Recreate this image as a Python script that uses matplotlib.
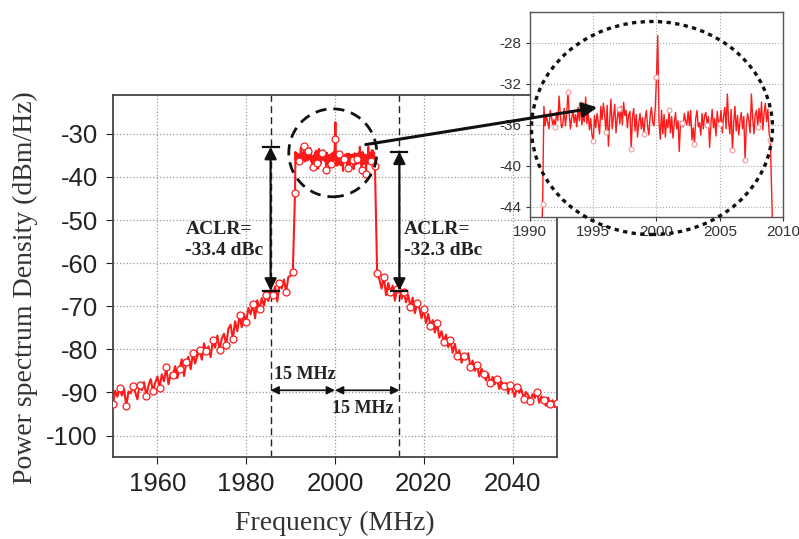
import numpy as np
import matplotlib.pyplot as plt
from matplotlib.patches import Ellipse, FancyArrowPatch

plt.rcParams['axes.unicode_minus'] = False
plt.rcParams['font.family'] = ['Liberation Sans', 'DejaVu Sans']

# measured PSD: skirts every 0.5 MHz, channel every 0.1 MHz
left_freq = np.linspace(1950.0, 1990.5, 82)
left_psd = [
    -92.8, -89.6, -91.0, -88.9, -90.7, -89.2, -93.1, -89.8, -90.2, -88.5,
    -89.9, -91.6, -88.2, -89.5, -87.6, -90.8, -88.4, -86.9, -89.7, -87.8,
    -86.3, -88.9, -85.8, -87.4, -84.2, -88.1, -85.6, -86.0, -83.9, -86.7,
    -84.5, -82.3, -86.2, -83.0, -81.7, -84.6, -80.9, -83.3, -81.5, -80.2,
    -82.4, -78.6, -80.5, -79.3, -81.8, -77.9, -79.6, -76.8, -80.1, -77.5,
    -76.4, -78.9, -75.2, -74.3, -77.6, -73.5, -75.8, -72.1, -74.9, -71.8,
    -73.6, -70.4, -71.9, -69.5, -72.8, -68.6, -70.7, -68.1, -69.9, -67.3,
    -68.8, -66.2, -67.5, -65.4, -68.9, -64.7, -65.9, -63.8, -66.6, -63.2,
    -62.9, -62.0,
]

band_freq = np.linspace(1991.0, 2009.0, 181)
band_psd = [
    -43.7, -34.2, -36.1, -35.0, -35.8, -36.4, -34.6, -35.2, -36.0, -35.5,
    -36.2, -34.8, -35.6, -33.2, -35.1, -36.3, -35.9, -34.4, -36.1, -35.0,
    -32.8, -34.9, -36.4, -35.3, -34.7, -35.8, -35.0, -36.2, -34.3, -35.6,
    -34.0, -36.0, -35.2, -35.7, -33.3, -35.9, -34.8, -36.5, -35.4, -37.0,
    -37.6, -35.1, -36.3, -34.9, -35.8, -36.9, -34.2, -35.5, -33.9, -35.0,
    -36.7, -34.1, -38.1, -35.6, -33.5, -36.4, -35.2, -34.0, -36.8, -35.3,
    -34.5, -35.9, -34.2, -36.0, -33.8, -35.1, -34.6, -36.3, -35.0, -34.7,
    -38.4, -35.2, -34.4, -36.6, -35.0, -37.2, -35.8, -34.9, -36.4, -35.3,
    -36.9, -35.4, -34.6, -36.2, -37.0, -35.1, -34.3, -35.8, -36.1, -34.4,
    -31.3, -27.3, -35.8, -37.4, -34.6, -36.9, -35.0, -37.2, -35.5, -36.3,
    -34.6, -36.8, -35.2, -37.3, -35.9, -34.8, -36.4, -35.6, -38.6, -35.7,
    -35.8, -36.2, -34.9, -35.6, -36.0, -34.7, -36.1, -34.6, -37.5, -36.3,
    -37.9, -35.4, -34.6, -36.2, -35.8, -37.0, -34.9, -36.4, -35.1, -34.8,
    -36.0, -35.2, -38.2, -35.9, -34.5, -36.3, -35.4, -37.1, -34.7, -35.8,
    -35.9, -34.6, -36.8, -35.2, -34.3, -36.4, -33.0, -35.7, -36.9, -34.5,
    -38.5, -35.8, -34.2, -36.6, -35.1, -37.0, -35.6, -34.8, -36.4, -35.2,
    -39.4, -36.1, -34.9, -35.6, -36.8, -33.0, -35.3, -36.9, -35.0, -34.6,
    -36.2, -34.4, -35.8, -33.8, -36.5, -34.9, -33.9, -35.7, -34.5, -36.8,
    -37.5,
]

right_freq = np.linspace(2009.5, 2050.0, 82)
right_psd = [
    -62.3, -63.8, -65.9, -63.1, -67.4, -64.6, -66.8, -65.2, -68.7, -66.0,
    -65.9, -68.3, -66.7, -69.1, -67.4, -70.2, -68.0, -71.6, -69.3, -70.5,
    -72.8, -70.6, -73.9, -71.8, -74.5, -73.2, -76.1, -74.0, -77.3, -75.8,
    -78.4, -76.6, -79.5, -77.9, -80.8, -78.7, -81.6, -80.2, -83.1, -81.5,
    -82.4, -80.9, -84.2, -82.6, -85.0, -83.7, -86.3, -84.5, -85.8, -87.2,
    -85.6, -87.9, -86.4, -88.1, -86.9, -89.2, -87.5, -88.6, -87.8, -90.3,
    -88.2, -89.6, -91.0, -88.7, -90.1, -89.3, -91.5, -89.9, -90.6, -92.0,
    -90.4, -91.3, -89.8, -92.4, -90.9, -91.7, -93.1, -91.2, -92.6, -91.8,
    -93.4, -92.5,
]

# ACLR markers (adjacent channel edges) and their levels
aclr_freq = [1985.5, 2014.5]
aclr_bottom = [-66.4, -66.4]
aclr_value = [-33.4, -32.3]
spacing_mhz = 15

freq = np.concatenate([left_freq, band_freq, right_freq])
psd = np.concatenate([left_psd, band_psd, right_psd])

red = '#ff1a1a'
fig = plt.figure(figsize=(7.99, 5.39), dpi=100)
ax = fig.add_axes([0.1414, 0.152, 0.5557, 0.6716])

ax.plot(freq, psd, color=red, lw=1.5, zorder=3)
mk_f = np.concatenate([left_freq[::3], band_freq[::10], right_freq[::3]])
mk_p = np.concatenate([np.array(left_psd)[::3], np.array(band_psd)[::10],
                       np.array(right_psd)[::3]])
ax.plot(mk_f, mk_p, 'o', ms=5, mfc='white', mec=red, mew=0.9, zorder=4)

ax.set_xlim(1950, 2050)
ax.set_ylim(-105, -21)
ax.set_xticks([1960, 1980, 2000, 2020, 2040])
ax.set_yticks(range(-100, -29, 10))
ax.tick_params(labelsize=18.5, colors='#222', length=5, pad=6)
ax.grid(True, ls=':', color='#999', lw=0.9)
for s in ax.spines.values():
    s.set_color('#444')
    s.set_linewidth(1.3)

for f in aclr_freq:
    ax.axvline(f, color='#222', ls=(0, (5, 3)), lw=1.0, zorder=2)

serif = 'Liberation Serif'
for f, b, v, tx in zip(aclr_freq, aclr_bottom, aclr_value, [1966.3, 2015.5]):
    top = b - v
    ax.annotate('', xy=(f, top), xytext=(f, b),
                arrowprops=dict(arrowstyle='<|-|>', color='#111', lw=1.6,
                                mutation_scale=18, shrinkA=0, shrinkB=0), zorder=5)
    ax.plot([f - 1.8, f + 1.8], [top, top], color='#111', lw=1.6, zorder=5)
    ax.plot([f - 1.8, f + 1.8], [b, b], color='#111', lw=1.6, zorder=5)
    ax.text(tx, -54.6, f'ACLR=\n{v} dBc', family=serif, weight='bold',
            fontsize=14, color='#222', va='center', ha='left', linespacing=1.3)

# 15 MHz spacing arrows
ax.annotate('', xy=(2000, -89.5), xytext=(aclr_freq[0], -89.5),
            arrowprops=dict(arrowstyle='<|-|>', color='#111', lw=1.2,
                            mutation_scale=12, shrinkA=0, shrinkB=0))
ax.annotate('', xy=(aclr_freq[1], -89.5), xytext=(2000, -89.5),
            arrowprops=dict(arrowstyle='<|-|>', color='#111', lw=1.2,
                            mutation_scale=12, shrinkA=0, shrinkB=0))
ax.text(1993.3, -85.8, f'{spacing_mhz} MHz', family=serif, weight='bold',
        fontsize=13, color='#222', ha='center', va='center')
ax.text(2006.2, -93.7, f'{spacing_mhz} MHz', family=serif, weight='bold',
        fontsize=13, color='#222', ha='center', va='center')

ax.add_patch(Ellipse((1999.5, -34.4), 19.8, 20.4, fill=False, color='#111',
                     ls=(0, (4, 2.5)), lw=2.0, zorder=6))

fig.text(25 / 799, 1 - 288 / 539, 'Power spectrum Density (dBm/Hz)',
         rotation=90, family=serif, fontsize=20, color='#333',
         ha='center', va='center')
fig.text(335 / 799, 1 - 523 / 539, 'Frequency (MHz)', family=serif,
         fontsize=20, color='#333', ha='center', va='center')

# zoomed view of the channel
ins = fig.add_axes([0.6633, 0.5974, 0.3167, 0.3803])
ins.plot(freq, psd, color=red, lw=1.0)
ins.plot(band_freq[::10], np.array(band_psd)[::10], 'o', ms=3.5,
         mfc='white', mec='#f29a9a', mew=0.8)
ins.set_xlim(1990, 2010)
ins.set_ylim(-45, -25)
ins.set_xticks([1990, 1995, 2000, 2005, 2010])
ins.set_yticks([-44, -40, -36, -32, -28])
ins.tick_params(labelsize=11, colors='#333', length=3, pad=3)
ins.grid(True, ls=':', color='#aaa', lw=0.8)
for s in ins.spines.values():
    s.set_color('#555')
    s.set_linewidth(1.0)

fig.add_artist(Ellipse((652 / 799, 1 - 128 / 539), 241 / 799, 213 / 539,
                       transform=fig.transFigure, fill=False, color='#111',
                       ls=(0, (1.3, 1.3)), lw=2.4, zorder=10))
fig.add_artist(FancyArrowPatch((363 / 799, 1 - 145 / 539), (600 / 799, 1 - 107 / 539),
                               transform=fig.transFigure, arrowstyle='-|>',
                               mutation_scale=22, color='#111', lw=2.2, zorder=10))

fig.savefig('out.png', dpi=100)
